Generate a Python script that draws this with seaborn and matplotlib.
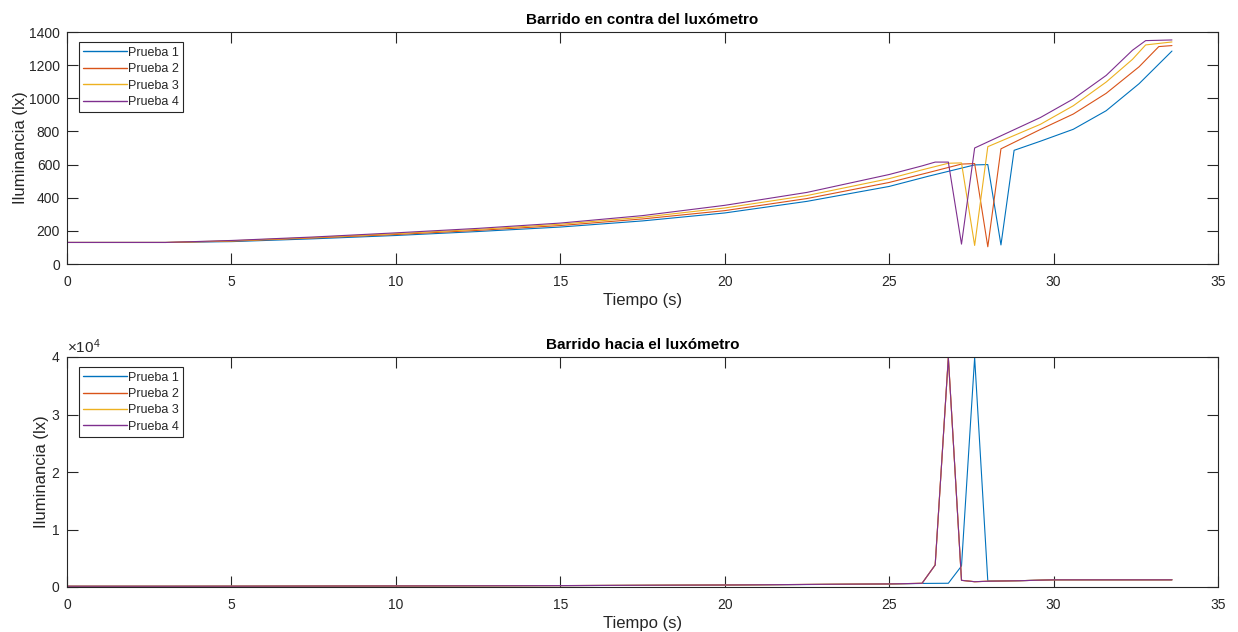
import matplotlib
matplotlib.use("Agg")
import matplotlib.pyplot as plt
from matplotlib.lines import Line2D
import pandas as pd
import seaborn as sns

# ---- data -------------------------------------------------------------
series_names = ["Prueba 1", "Prueba 2", "Prueba 3", "Prueba 4"]
series_colors = ["#0072BD", "#D95319", "#EDB120", "#7E2F8E"]

# Barrido en contra del luxómetro: time (s) and illuminance (lx)
t_contra_1 = [0, 3, 5, 7.5, 10, 12.5, 15, 17.5, 20, 22.5, 25, 26.2, 27.6, 28.0, 28.4, 28.8, 29.6, 30.6, 31.6, 32.6, 33.6]
lx_contra_1 = [130, 130, 135, 152, 172, 196, 223, 260, 308, 378, 468, 530, 598, 600, 115, 686, 741, 813, 925, 1088, 1285]

t_contra_2 = [0, 3, 5, 7.5, 10, 12.5, 15, 17.5, 20, 22.5, 25, 26.2, 27.2, 27.6, 28.0, 28.4, 29.6, 30.6, 31.6, 32.6, 33.2, 33.6]
lx_contra_2 = [130, 130, 138, 157, 178, 203, 232, 272, 322, 395, 492, 552, 603, 606, 104, 695, 812, 905, 1030, 1190, 1312, 1318]

t_contra_3 = [0, 3, 5, 7.5, 10, 12.5, 15, 17.5, 20, 22.5, 25, 26.0, 26.8, 27.2, 27.6, 28.0, 29.6, 30.6, 31.6, 32.4, 32.8, 33.6]
lx_contra_3 = [130, 130, 140, 160, 183, 209, 240, 282, 338, 413, 515, 568, 608, 610, 112, 708, 843, 955, 1098, 1235, 1322, 1340]

t_contra_4 = [0, 3, 5, 7.5, 10, 12.5, 15, 17.5, 20, 22.5, 25, 26.0, 26.4, 26.8, 27.2, 27.6, 29.6, 30.6, 31.6, 32.4, 32.8, 33.6]
lx_contra_4 = [130, 130, 142, 163, 188, 215, 247, 292, 354, 432, 540, 592, 615, 615, 120, 700, 884, 996, 1138, 1290, 1348, 1352]

# Barrido hacia el luxómetro: time (s) and illuminance (lx)
t_hacia_1 = [0, 3, 5, 10, 15, 20, 25, 26.0, 26.8, 27.2, 27.6, 28.0, 29.0, 30.0, 33.6]
lx_hacia_1 = [130, 130, 140, 180, 240, 340, 520, 620, 650, 3650, 39900, 1040, 1100, 1250, 1250]

t_hacia_2 = [0, 3, 5, 10, 15, 20, 25, 26.0, 26.4, 26.8, 27.2, 27.6, 28.0, 29.0, 30.0, 33.6]
lx_hacia_2 = [130, 130, 140, 185, 245, 350, 540, 640, 3830, 39900, 1160, 920, 1000, 1100, 1250, 1250]

t_hacia_3 = [0, 3, 5, 10, 15, 20, 25, 26.0, 26.4, 26.8, 27.2, 27.6, 28.0, 29.0, 30.0, 33.6]
lx_hacia_3 = [130, 130, 140, 185, 245, 350, 540, 640, 3830, 39900, 1160, 920, 1000, 1100, 1250, 1250]

t_hacia_4 = [0, 3, 5, 10, 15, 20, 25, 26.0, 26.4, 26.8, 27.2, 27.6, 28.0, 29.0, 30.0, 33.6]
lx_hacia_4 = [130, 130, 140, 185, 245, 350, 540, 640, 3830, 39900, 1160, 920, 1000, 1100, 1250, 1250]

x_ticks = [0, 5, 10, 15, 20, 25, 30, 35]
y_ticks_contra = [0, 200, 400, 600, 800, 1000, 1200, 1400]
y_ticks_hacia = [0, 10000, 20000, 30000, 40000]


def long_frame(times, values):
    rows = []
    for name, ts, vs in zip(series_names, times, values):
        for t, v in zip(ts, vs):
            rows.append({"Tiempo": t, "Iluminancia": v, "Prueba": name})
    return pd.DataFrame(rows)


df_contra = long_frame([t_contra_1, t_contra_2, t_contra_3, t_contra_4],
                       [lx_contra_1, lx_contra_2, lx_contra_3, lx_contra_4])
df_hacia = long_frame([t_hacia_1, t_hacia_2, t_hacia_3, t_hacia_4],
                      [lx_hacia_1, lx_hacia_2, lx_hacia_3, lx_hacia_4])

# ---- style ------------------------------------------------------------
sns.set_style("white")
ink = (0.15, 0.15, 0.15)
plt.rcParams["font.family"] = ["Liberation Sans", "DejaVu Sans"]
plt.rcParams.update({
    "axes.edgecolor": ink,
    "axes.linewidth": 0.8,
    "xtick.color": ink,
    "ytick.color": ink,
    "xtick.labelcolor": ink,
    "ytick.labelcolor": ink,
    "xtick.direction": "in",
    "ytick.direction": "in",
    "xtick.major.size": 8,
    "ytick.major.size": 8,
    "xtick.major.width": 0.8,
    "ytick.major.width": 0.8,
    "xtick.labelsize": 10,
    "ytick.labelsize": 10,
    "mathtext.fontset": "custom",
    "mathtext.rm": "Liberation Sans",
})

fig = plt.figure(figsize=(12.38, 6.32), dpi=100)
ax_top = fig.add_axes([67 / 1238, 1 - 264 / 632, (1218 - 67) / 1238, (264 - 32) / 632])
ax_bot = fig.add_axes([67 / 1238, 1 - 587 / 632, (1218 - 67) / 1238, (587 - 357) / 632])

panels = [
    (ax_top, df_contra, "Barrido en contra del luxómetro", (0, 1400), y_ticks_contra),
    (ax_bot, df_hacia, "Barrido hacia el luxómetro", (0, 40000), y_ticks_hacia),
]

for ax, df, title, ylim, yticks in panels:
    sns.lineplot(data=df, x="Tiempo", y="Iluminancia", hue="Prueba",
                 hue_order=series_names, palette=series_colors,
                 estimator=None, sort=False, linewidth=0.8,
                 legend=False, ax=ax)
    ax.set_xlim(0, 35)
    ax.set_ylim(*ylim)
    ax.set_xticks(x_ticks)
    ax.set_yticks(yticks)
    ax.tick_params(top=True, right=True, bottom=True, left=True)
    ax.tick_params(axis="x", pad=8)
    ax.tick_params(axis="y", pad=5)
    for side in ["top", "right", "bottom", "left"]:
        ax.spines[side].set_visible(True)
        ax.spines[side].set_color(ink)
    ax.set_title(title, fontsize=11, fontweight="bold", color="black", pad=6, y=1.0)
    ax.set_xlabel("Tiempo (s)", fontsize=12, color=ink, labelpad=3)
    ax.set_ylabel("Iluminancia (lx)", fontsize=12, color=ink, labelpad=1)
    handles = [Line2D([0], [0], color=c, lw=1.0) for c in series_colors]
    leg = ax.legend(handles, series_names, loc="upper left",
                    bbox_to_anchor=(0.01, 0.955), fontsize=9,
                    frameon=True, fancybox=False, framealpha=1,
                    edgecolor=ink, handlelength=3.5, handletextpad=0.1,
                    labelspacing=0.35, borderpad=0.35, borderaxespad=0)
    leg.get_frame().set_linewidth(0.8)

ax_bot.ticklabel_format(axis="y", style="sci", scilimits=(4, 4), useMathText=True)
ax_bot.yaxis.get_offset_text().set_fontsize(11)
ax_bot.yaxis.get_offset_text().set_color(ink)

fig.savefig("out.png", dpi=100, facecolor="white")
